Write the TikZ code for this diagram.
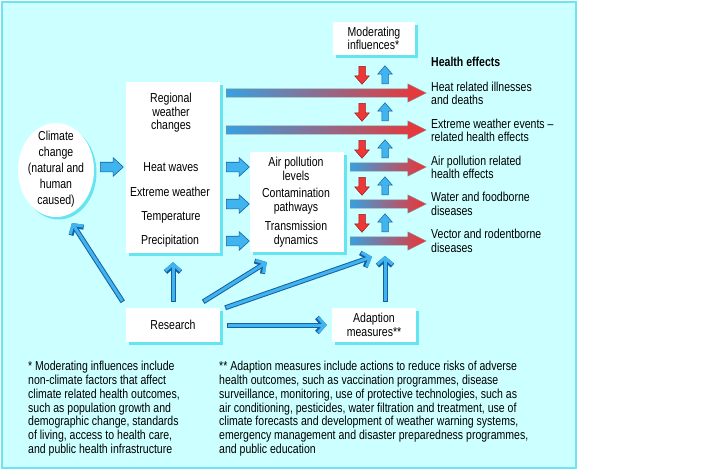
\documentclass[tikz,border=0pt]{standalone}
\usepackage{fontspec}
\setmainfont{Liberation Sans}[FakeStretch=0.81]
\usetikzlibrary{shapes.geometric,shapes.arrows,shadows,calc,arrows.meta}
\definecolor{panelbg}{RGB}{204,255,255}
\definecolor{panelline}{RGB}{110,228,240}
\definecolor{shadowc}{RGB}{102,228,240}
\definecolor{bfill}{RGB}{64,180,238}
\definecolor{bedge}{RGB}{22,96,165}
\definecolor{rfill}{RGB}{238,55,55}
\definecolor{redge}{RGB}{150,25,25}
\definecolor{gblue}{RGB}{55,160,225}
\definecolor{gred}{RGB}{240,50,50}
\newcommand{\dfont}{\fontsize{13}{13.6}\selectfont}
\newcommand{\ffont}{\fontsize{13}{13.9}\selectfont}
\begin{document}
\begin{tikzpicture}[x=1pt,y=-1pt,
  box/.style={fill=white, inner sep=0pt, drop shadow={shadow xshift=2.5pt, shadow yshift=-2.5pt, fill=shadowc, opacity=1}},
  txt/.style={inner sep=0pt, align=center, font=\dfont},
  one/.style={txt, text height=9.5pt, text depth=2.7pt},
  blockarr/.style={single arrow, draw=bedge, fill=bfill, line width=0.6pt, inner sep=0pt, minimum width=0pt, text height=4.5pt, text depth=4.5pt, single arrow head extend=4.5pt, single arrow tip angle=85, minimum height=23pt, anchor=tail},
  gradarr/.style={single arrow, draw=black!45, line width=0.4pt, left color=gblue, right color=gred, inner sep=0pt, minimum width=0pt, text height=4pt, text depth=4pt, single arrow head extend=5pt, single arrow tip angle=53, anchor=tail},
  smallarr/.style={single arrow, line width=0.5pt, inner sep=0pt, minimum width=0pt, text height=3pt, text depth=3pt, single arrow head extend=4pt, single arrow tip angle=82, minimum height=18pt, anchor=tail},
  downarr/.style={smallarr, rotate=-90, draw=redge, fill=rfill},
  uparr/.style={smallarr, rotate=90, draw=bedge, fill=bfill},
  linearr/.style={draw=bedge, line width=5pt, -{Straight Barb[length=6.5pt,width=15pt,line width=5pt]},
    postaction={draw=bfill, line width=3pt, shorten <=1pt, -{Straight Barb[length=6.5pt,width=15pt,line width=3pt]}}}
]
\fill[white] (0,0) rectangle (722,472);
\path[use as bounding box] (0,0) rectangle (722,472);
\draw[panelline, fill=panelbg, line width=1.5pt] (2,2) rectangle (576,468);

% boxes
\node[box, minimum width=82pt, minimum height=33pt, font=\dfont, align=left] (mod) at (374,38.5) {Moderating\\influences*};
\node[box, minimum width=94pt, minimum height=171pt] (reg) at (173,167.5) {};
\node[box, minimum width=94pt, minimum height=100pt] (ap) at (297,202) {};
\node[box, minimum width=94pt, minimum height=34pt, font=\dfont] (res) at (173,325) {Research};
\node[box, minimum width=84pt, minimum height=34pt, font=\dfont, align=center] (ad) at (374,325) {Adaption\\measures**};
\node[box, ellipse, minimum width=76pt, minimum height=94pt] (cc) at (56,170) {};

% texts
\node[txt, font=\fontsize{13}{16}\selectfont] (cctxt) at (56,169) {Climate\\change\\(natural and\\human\\caused)};
\node[txt] (regtxt) at (171,113) {Regional\\weather\\changes};
\node[one] (hw) at (171,168) {Heat waves};
\node[one] (ew) at (170,193) {Extreme weather};
\node[one] (tp) at (171,217) {Temperature};
\node[one] (pr) at (170,241) {Precipitation};
\node[txt] (apl) at (296,169) {Air pollution\\levels};
\node[txt] (cp) at (296,201) {Contamination\\pathways};
\node[txt] (td) at (296,234) {Transmission\\dynamics};

\node[one, anchor=west, font=\dfont\bfseries] (he) at (431,63) {Health effects};
\node[txt, align=left, anchor=west] (h1) at (431,93.5) {Heat related illnesses\\and deaths};
\node[txt, align=left, anchor=west] (h2) at (431,130.5) {Extreme weather events \textendash\\related health effects};
\node[txt, align=left, anchor=west] (h3) at (431,167.5) {Air pollution related\\health effects};
\node[txt, align=left, anchor=west] (h4) at (431,204) {Water and foodborne\\diseases};
\node[txt, align=left, anchor=west] (h5) at (431,241) {Vector and rodentborne\\diseases};

% block arrows
\node[blockarr] (ba1) at (100,167) {};
\node[blockarr] (ba2) at (226,167) {};
\node[blockarr] (ba3) at (226,204) {};
\node[blockarr] (ba4) at (226,241) {};

% gradient arrows
\node[gradarr, minimum height=200pt] (g1) at (226,93) {};
\node[gradarr, minimum height=200pt] (g2) at (226,130) {};
\node[gradarr, minimum height=76pt] (g3) at (350,167) {};
\node[gradarr, minimum height=76pt] (g4) at (350,204) {};
\node[gradarr, minimum height=76pt] (g5) at (350,241) {};

% moderating / adaption small arrows
\foreach \yy [count=\i] in {75,112,149,186,223} {
  \node[downarr] (d\i) at (362,\yy-9) {};
  \node[uparr] (u\i) at (385,\yy+9) {};
}

% research connectors
\draw[linearr] ([shift={(-3,-6)}]res.north west) -- ([shift={(16,53)}]cc.center);
\draw[linearr] ([shift={(0,-6)}]res.north) -- ([shift={(0,9)}]reg.south);
\draw[linearr] ([shift={(-17,-6)}]res.north east) -- ([shift={(17,10)}]ap.south west);
\draw[linearr] ([shift={(5,0)}]res.north east) -- ([shift={(-2,-51)}]ad.north);
\draw[linearr] ([shift={(11,-6)}]ad.north) -- ([shift={(11,-52)}]ad.north);
\draw[linearr] ([shift={(7,0)}]res.east) -- ([shift={(-5,0)}]ad.west);

% footnotes
\node[txt, font=\ffont, align=left, anchor=west] (fn1) at (28,408.7) {* Moderating influences include\\non-climate factors that affect\\climate related health outcomes,\\such as population growth and\\demographic change, standards\\of living, access to health care,\\and public health infrastructure};
\node[txt, font=\ffont, align=left, anchor=west] (fn2) at (219,408.7) {** Adaption measures include actions to reduce risks of adverse\\health outcomes, such as vaccination programmes, disease\\surveillance, monitoring, use of protective technologies, such as\\air conditioning, pesticides, water filtration and treatment, use of\\climate forecasts and development of weather warning systems,\\emergency management and disaster preparedness programmes,\\and public education};
\end{tikzpicture}
\end{document}
